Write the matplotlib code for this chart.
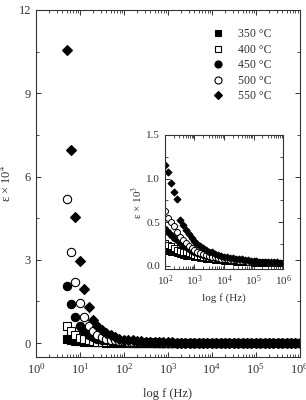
import matplotlib
matplotlib.use("Agg")
import matplotlib.pyplot as plt
from matplotlib.ticker import LogLocator, MultipleLocator, NullFormatter, FormatStrFormatter

plt.rcParams['font.family'] = ['Liberation Serif', 'DejaVu Serif']
plt.rcParams['mathtext.fontset'] = 'stix'

# frequencies (Hz)
freq = [5.0, 6.3, 7.9, 10, 12.6, 15.8, 20, 25, 32, 40, 50, 63, 79,
        100, 126, 158, 200, 251, 316, 398, 501, 631, 794,
        1e3, 1.26e3, 1.58e3, 2.0e3, 2.51e3, 3.16e3, 3.98e3, 5.01e3, 6.31e3, 7.94e3,
        1e4, 1.26e4, 1.58e4, 2.0e4, 2.51e4, 3.16e4, 3.98e4, 5.01e4, 6.31e4, 7.94e4,
        1e5, 1.26e5, 1.58e5, 2.0e5, 2.51e5, 3.16e5, 3.98e5, 5.01e5, 6.31e5, 7.94e5,
        1e6]

labels = ['350 °C', '400 °C', '450 °C', '500 °C', '550 °C']

# permittivity in units of 1e4
eps_350 = [0.15, 0.12, 0.08, 0.06, 0.045, 0.036, 0.03, 0.026, 0.023, 0.021, 0.02, 0.019, 0.018,
           0.018, 0.017, 0.016, 0.015, 0.014, 0.013, 0.012, 0.0115, 0.011, 0.0105,
           0.01, 0.0095, 0.009, 0.0085, 0.008, 0.0076, 0.0072, 0.0068, 0.0064, 0.006,
           0.0057, 0.0054, 0.0051, 0.0048, 0.0046, 0.0044, 0.0042, 0.004, 0.0038, 0.0036,
           0.0034, 0.0033, 0.0032, 0.0031, 0.003, 0.0029, 0.0028, 0.0027, 0.0027, 0.0026,
           0.0026]
eps_400 = [0.6, 0.45, 0.3, 0.2, 0.14, 0.1, 0.075, 0.058, 0.046, 0.038, 0.033, 0.029, 0.027,
           0.026, 0.024, 0.022, 0.02, 0.018, 0.017, 0.016, 0.015, 0.014, 0.013,
           0.012, 0.011, 0.0105, 0.01, 0.0095, 0.009, 0.0085, 0.008, 0.0076, 0.0072,
           0.0068, 0.0064, 0.006, 0.0057, 0.0054, 0.0051, 0.0048, 0.0046, 0.0044, 0.0042,
           0.004, 0.0038, 0.0036, 0.0034, 0.0033, 0.0032, 0.0031, 0.003, 0.0029, 0.0028,
           0.0028]
eps_450 = [2.05, 1.4, 0.95, 0.6, 0.42, 0.3, 0.22, 0.16, 0.12, 0.095, 0.075, 0.062, 0.052,
           0.042, 0.038, 0.035, 0.032, 0.029, 0.026, 0.023, 0.021, 0.019, 0.017,
           0.0155, 0.014, 0.013, 0.012, 0.011, 0.010, 0.0093, 0.0087, 0.0081, 0.0075,
           0.007, 0.0066, 0.0062, 0.0058, 0.0055, 0.0052, 0.0049, 0.0046, 0.0044, 0.0042,
           0.004, 0.0038, 0.0036, 0.0035, 0.0034, 0.0033, 0.0032, 0.0031, 0.003, 0.003,
           0.0029]
eps_500 = [5.2, 3.3, 2.2, 1.45, 0.95, 0.62, 0.42, 0.3, 0.22, 0.16, 0.12, 0.095, 0.078,
           0.063, 0.055, 0.05, 0.045, 0.038, 0.033, 0.029, 0.026, 0.023, 0.02,
           0.018, 0.016, 0.0145, 0.013, 0.012, 0.011, 0.010, 0.0093, 0.0087, 0.008,
           0.0075, 0.007, 0.0066, 0.0062, 0.0058, 0.0055, 0.0052, 0.0049, 0.0046, 0.0044,
           0.0042, 0.004, 0.0038, 0.0036, 0.0035, 0.0034, 0.0033, 0.0032, 0.0031, 0.003,
           0.003]
eps_550 = [10.55, 6.95, 4.55, 2.95, 1.95, 1.3, 0.85, 0.62, 0.46, 0.36, 0.28, 0.22, 0.16,
           0.115, 0.107, 0.095, 0.084, 0.076, 0.052, 0.046, 0.041, 0.036, 0.032,
           0.028, 0.025, 0.022, 0.02, 0.018, 0.016, 0.015, 0.013, 0.012, 0.011,
           0.010, 0.0095, 0.009, 0.0085, 0.008, 0.0075, 0.007, 0.0065, 0.006, 0.0055,
           0.005, 0.0048, 0.0046, 0.0044, 0.0042, 0.004, 0.0038, 0.0036, 0.0035, 0.0034,
           0.0033]

series = [eps_350, eps_400, eps_450, eps_500, eps_550]
styles = [dict(marker='s', mfc='black', mec='black'),
          dict(marker='s', mfc='white', mec='black'),
          dict(marker='o', mfc='black', mec='black'),
          dict(marker='o', mfc='white', mec='black'),
          dict(marker='D', mfc='black', mec='black')]
sizes = [5.5, 5.5, 6, 6, 5]

fig = plt.figure(figsize=(3.06, 4.0), dpi=100)
ax = fig.add_axes([0.1176, 0.1075, 0.862, 0.8675])

for y, st, lab, ms in zip(series, styles, labels, sizes):
    ax.plot(freq, y, ls='none', ms=ms, mew=0.8, label=lab, **st)

def style_axes(a, fs):
    a.set_xscale('log')
    a.tick_params(which='both', direction='in', top=True, right=True, labelsize=fs,
                  colors='#333333', labelcolor='#333333')
    a.tick_params(which='major', length=3.5, width=0.7)
    a.tick_params(which='minor', length=2, width=0.6)
    a.xaxis.set_major_locator(LogLocator(base=10, numticks=10))
    a.xaxis.set_minor_locator(LogLocator(base=10, subs=range(2, 10), numticks=20))
    a.xaxis.set_minor_formatter(NullFormatter())
    for s in a.spines.values():
        s.set_linewidth(0.8)
        s.set_color('#333333')

style_axes(ax, 9)
ax.set_xlim(1, 1e6)
ax.set_ylim(-0.5, 12)
ax.yaxis.set_major_locator(MultipleLocator(3))
ax.yaxis.set_minor_locator(MultipleLocator(1.5))
ax.set_xlabel('log f (Hz)', fontsize=9, color='#333333', labelpad=8)
ax.set_ylabel('ε × 10$^{4}$', fontsize=9, color='#333333', labelpad=3)

leg = ax.legend(loc='upper right', bbox_to_anchor=(0.93, 0.975), frameon=False,
                fontsize=8.5, handletextpad=1.1, labelspacing=0.3, markerscale=0.85,
                handlelength=1.2, borderpad=0.3)
for t in leg.get_texts():
    t.set_color('#333333')

ins = fig.add_axes([0.539, 0.3275, 0.386, 0.335])
for y, st, lab, ms in zip(series, styles, labels, sizes):
    ins.plot(freq, [v * 10 for v in y], ls='none', ms=ms * 0.72, mew=0.7, **st)
style_axes(ins, 8)
ins.set_xlim(1e2, 1e6)
ins.set_ylim(-0.04, 1.5)
ins.yaxis.set_major_locator(MultipleLocator(0.5))
ins.yaxis.set_minor_locator(MultipleLocator(0.25))
ins.yaxis.set_major_formatter(FormatStrFormatter('%.1f'))
ins.set_xlabel('log f (Hz)', fontsize=8, color='#333333', labelpad=3)
ins.set_ylabel('ε × 10$^{3}$', fontsize=8, color='#333333', labelpad=1)

fig.savefig('out.png', dpi=100)
